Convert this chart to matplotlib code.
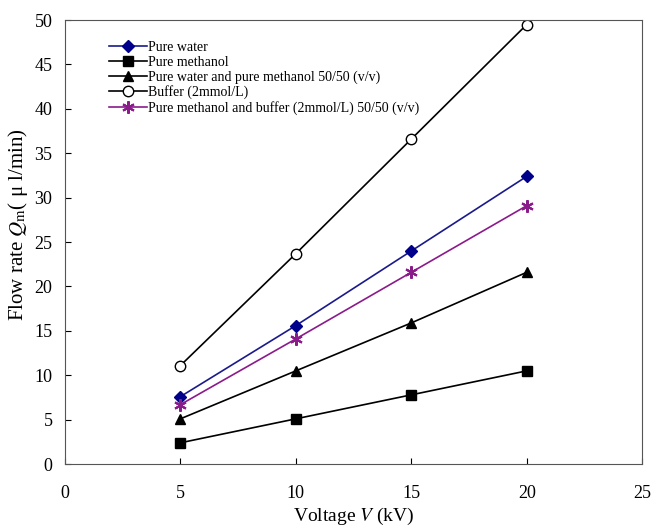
import matplotlib
matplotlib.use('Agg')
import matplotlib.pyplot as plt

plt.rcParams['font.family'] = ['Liberation Serif', 'DejaVu Serif']
plt.rcParams['mathtext.fontset'] = 'stix'

voltage = [5, 10, 15, 20]
pure_water = [7.6, 15.6, 24.0, 32.4]
pure_methanol = [2.4, 5.1, 7.8, 10.5]
water_methanol = [5.1, 10.5, 15.9, 21.6]
buffer_2mm = [11.1, 23.7, 36.6, 49.5]
methanol_buffer = [6.7, 14.1, 21.6, 29.1]

fig = plt.figure(figsize=(6.53, 5.28), dpi=100)
ax = fig.add_axes([0.0995, 0.121, 0.884, 0.841])

ax.plot(voltage, pure_water, '-D', color='#1a1a8c', ms=6, mfc='#00008b', mec='#00008b', lw=1.2,
        label='Pure water')
ax.plot(voltage, pure_methanol, '-s', color='black', ms=7.5, lw=1.2, label='Pure methanol')
ax.plot(voltage, water_methanol, '-^', color='black', ms=7.5, lw=1.2,
        label='Pure water and pure methanol 50/50 (v/v)')
ax.plot(voltage, buffer_2mm, '-o', color='black', ms=7.5, mfc='white', lw=1.2,
        label='Buffer (2mmol/L)')
ax.plot(voltage, methanol_buffer, color='#8b1a8b', ms=9, lw=1.2,
        marker=(6, 2, 0), mew=1.5,
        label='Pure methanol and buffer (2mmol/L) 50/50 (v/v)')

ax.set_xlim(0, 25)
ax.set_ylim(0, 50)
ax.set_xticks(range(0, 26, 5))
ax.set_yticks(range(0, 51, 5))
ax.tick_params(direction='in', labelsize=13, length=4)
ax.tick_params(axis='x', pad=15)
ax.tick_params(axis='y', pad=9)
for s in ax.spines.values():
    s.set_color('#555555')

ax.set_xlabel('Voltage $V$ (kV)', fontsize=14, labelpad=3)
ax.set_ylabel('Flow rate $Q_{\\rm m}$( μ l/min)', fontsize=15)
ax.yaxis.set_label_coords(-0.06, 0.54)

ax.legend(loc='upper left', bbox_to_anchor=(0.06, 0.975), frameon=False, fontsize=10,
          handlelength=2.7, handletextpad=0.1, labelspacing=0.12, borderpad=0.2)

fig.savefig('out.png', dpi=100)
